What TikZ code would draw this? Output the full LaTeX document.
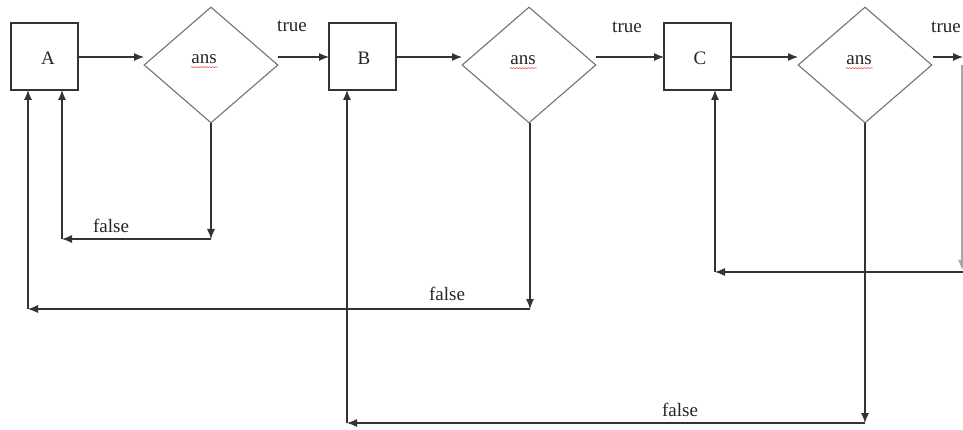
\documentclass[tikz,border=0pt]{standalone}
\usepackage{fontspec}
\setmainfont{Liberation Serif}
\usetikzlibrary{shapes.geometric,arrows.meta,decorations.pathmorphing}
\begin{document}
\begin{tikzpicture}[x=1pt,y=-1pt,
  line width=1.1pt,
  every node/.style={font=\fontsize{19}{21}\selectfont, text=black!85},
  stepbox/.style={draw=black!80, rectangle, minimum width=67pt, minimum height=67pt, inner sep=0pt},
  decision/.style={draw=black!55, diamond, minimum width=134pt, minimum height=116pt, inner sep=0pt},
  flow/.style={draw=black!80, -{Latex[length=10pt,width=8pt]}},
  lbl/.style={inner sep=0pt},
  spell/.style={draw=red!80, line width=0.5pt, decorate, decoration={snake, amplitude=0.5pt, segment length=3pt}}
]
\useasboundingbox (0,0) rectangle (963,430);
\fill[white] (0,0) rectangle (963,430);

% boxes
\node[stepbox] (A) at (44.5,56.5) {};
\node[lbl] (tA) at (48,58) {A};
\node[stepbox] (B) at (362.5,56.5) {};
\node[lbl] (tB) at (364,58) {B};
\node[stepbox] (C) at (697.5,56.5) {};
\node[lbl] (tC) at (700,58) {C};

% diamonds
\node[decision] (D1) at (211,65) {};
\node[decision] (D2) at (529,65) {};
\node[decision] (D3) at (865,65) {};
\node[lbl] (t1) at (204,59) {ans};
\node[lbl] (t2) at (523,60) {ans};
\node[lbl] (t3) at (859,60) {ans};
\draw[spell] (t1.south west) ++(0,3) -- ++(27,0);
\draw[spell] (t2.south west) ++(0,3) -- ++(27,0);
\draw[spell] (t3.south west) ++(0,3) -- ++(27,0);

% horizontal flow
\coordinate (A1) at (78,57);
\coordinate (D1l) at (144,57);
\coordinate (D1r) at (278,57);
\coordinate (Bl) at (329,57);
\coordinate (Br) at (396,57);
\coordinate (D2l) at (462,57);
\coordinate (D2r) at (596,57);
\coordinate (Cl) at (664,57);
\coordinate (Cr) at (731,57);
\coordinate (D3l) at (798,57);
\coordinate (D3r) at (933,57);
\coordinate (E) at (963,57);

\draw[flow] (A1) -- (D1l);
\draw[flow] (D1r) -- (Bl);
\draw[flow] (Br) -- (D2l);
\draw[flow] (D2r) -- (Cl);
\draw[flow] (Cr) -- (D3l);
\draw[flow] (D3r) -- (E);

\node[lbl] (tr1) at (292,26) {true};
\node[lbl] (tr2) at (627,27) {true};
\node[lbl] (tr3) at (946,27) {true};

% loop 1
\coordinate (L1a) at (211,239);
\coordinate (L1b) at (62,239);
\coordinate (L1c) at (62,90);
\draw[flow] (211,123) -- (L1a);
\draw[flow] (L1a) -- (L1b);
\draw[flow] (L1b) -- (L1c);
\node[lbl] (f1) at (111,226) {false};

% loop 2
\coordinate (L2a) at (530,309);
\coordinate (L2b) at (28,309);
\coordinate (L2c) at (28,90);
\draw[flow] (530,123) -- (L2a);
\draw[flow] (L2a) -- (L2b);
\draw[flow] (L2b) -- (L2c);
\node[lbl] (f2) at (447,294) {false};

% loop 3
\coordinate (L3a) at (865,423);
\coordinate (L3b) at (347,423);
\coordinate (L3c) at (347,90);
\draw[flow] (865,123) -- (L3a);
\draw[flow] (L3a) -- (L3b);
\draw[flow] (L3b) -- (L3c);
\node[lbl] (f3) at (680,410) {false};

% loop 4 (partly outside)
\coordinate (L4s) at (962,65);
\coordinate (L4a) at (962,270);
\coordinate (L4r) at (963,272);
\coordinate (L4b) at (715,272);
\coordinate (L4c) at (715,90);
\draw[flow, draw=black!35] (L4s) -- (L4a);
\draw[flow] (L4r) -- (L4b);
\draw[flow] (L4b) -- (L4c);
\end{tikzpicture}
\end{document}
